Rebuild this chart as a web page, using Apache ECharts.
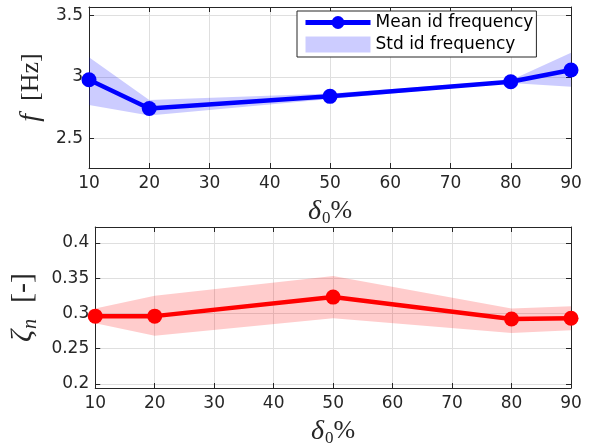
<!DOCTYPE html>
<html>
<head>
<meta charset="utf-8">
<script src="https://cdn.jsdelivr.net/npm/echarts@6/dist/echarts.min.js"></script>
<style>html,body{margin:0;padding:0;background:#fff}#c{width:592px;height:448px}</style>
</head>
<body>
<div id="c"></div>
<script>
// ---- data ----
const delta = [10, 20, 50, 80, 90];
const freqMean = [2.976, 2.742, 2.841, 2.960, 3.056];
const freqLo   = [2.770, 2.685, 2.820, 2.950, 2.920];
const freqHi   = [3.160, 2.812, 2.865, 2.972, 3.196];
const dampMean = [0.296, 0.296, 0.323, 0.292, 0.293];
const dampLo   = [0.286, 0.268, 0.293, 0.272, 0.276];
const dampHi   = [0.307, 0.325, 0.353, 0.307, 0.310];
const xTicks = [10, 20, 30, 40, 50, 60, 70, 80, 90];
const freqTicks = [2.5, 3, 3.5];
const dampTicks = [0.2, 0.25, 0.3, 0.35, 0.4];
const legendNames = ['Mean id frequency', 'Std id frequency'];

const axisCol = '#262626';
const gridCol = '#dfdfdf';
const tickFont = {fontFamily: 'DejaVu Sans', fontSize: 17, color: axisCol};

function band(xs, lo, hi, color) {
  return function (params, api) {
    if (params.dataIndex !== 0) return;
    const pts = [];
    for (let i = 0; i < xs.length; i++) pts.push(api.coord([xs[i], hi[i]]));
    for (let i = xs.length - 1; i >= 0; i--) pts.push(api.coord([xs[i], lo[i]]));
    return {type: 'polygon', shape: {points: pts}, style: {fill: color}};
  };
}

const serifRich = {
  it: {fontFamily: 'Liberation Serif', fontStyle: 'italic', fontSize: 28, color: axisCol},
  itL: {fontFamily: 'Liberation Serif', fontStyle: 'italic', fontSize: 30, color: axisCol},
  rm: {fontFamily: 'Liberation Serif', fontSize: 26, color: axisCol},
  rmL: {fontFamily: 'Liberation Serif', fontSize: 30, color: axisCol},
  sp: {fontFamily: 'Liberation Serif', fontSize: 25, width: 13, color: axisCol},
  spL: {fontFamily: 'Liberation Serif', fontSize: 25, width: 16, color: axisCol},
  sub: {fontFamily: 'Liberation Serif', fontSize: 17, padding: [14, 0, 0, 1], color: axisCol},
  subit: {fontFamily: 'Liberation Serif', fontStyle: 'italic', fontSize: 20, padding: [15, 0, 0, 1], color: axisCol}
};

function xAxisMain(gi) {
  return {
    type: 'value', gridIndex: gi, min: 10, max: 90, interval: 10,
    axisLine: {lineStyle: {color: axisCol, width: 1}},
    axisTick: {inside: true, length: 5, lineStyle: {color: axisCol}},
    axisLabel: Object.assign({margin: 7, customValues: xTicks}, tickFont),
    splitLine: {show: true, lineStyle: {color: gridCol, width: 1}},
    name: '{it|δ}{sub|0}{rm|%}', nameLocation: 'middle', nameGap: 28,
    nameTextStyle: {rich: serifRich}
  };
}
function xAxisTop(gi) {
  return {
    type: 'value', gridIndex: gi, position: 'top', min: 10, max: 90, interval: 10,
    axisLine: {lineStyle: {color: axisCol, width: 1}},
    axisTick: {inside: true, length: 5, lineStyle: {color: axisCol}},
    axisLabel: {show: false}, splitLine: {show: false}
  };
}
function yAxisMain(gi, min, max, ticks, fmt, name, gap) {
  return {
    type: 'value', gridIndex: gi, min: min, max: max,
    axisLine: {show: true, lineStyle: {color: axisCol, width: 1}},
    axisTick: {show: true, inside: true, length: 5, customValues: ticks, lineStyle: {color: axisCol}},
    axisLabel: Object.assign({margin: 6, customValues: ticks, formatter: fmt}, tickFont),
    splitLine: {show: true, lineStyle: {color: gridCol, width: 1}},
    name: name, nameLocation: 'middle', nameGap: gap, nameRotate: 90,
    nameTextStyle: {rich: serifRich}
  };
}
function yAxisRight(gi, min, max, ticks) {
  return {
    type: 'value', gridIndex: gi, position: 'right', min: min, max: max,
    axisLine: {show: true, lineStyle: {color: axisCol, width: 1}},
    axisTick: {show: true, inside: true, length: 5, customValues: ticks, lineStyle: {color: axisCol}},
    axisLabel: {show: false}, splitLine: {show: false}
  };
}

const option = {
  animation: false,
  backgroundColor: '#fff',
  grid: [
    {left: 89, right: 21, top: 7, height: 161},
    {left: 89, right: 21, top: 227, height: 163}
  ],
  xAxis: [xAxisMain(0), xAxisTop(0), xAxisMain(1), xAxisTop(1)],
  yAxis: [
    yAxisMain(0, 2.257, 3.569, freqTicks, v => String(v), '{it|f}{sp| }{rm|[Hz]}', 40),
    yAxisRight(0, 2.257, 3.569, freqTicks),
    yAxisMain(1, 0.194, 0.4225, dampTicks, v => String(v), '{itL|ζ}{subit|n}{spL| }{rmL|[-]}', 47),
    yAxisRight(1, 0.194, 0.4225, dampTicks)
  ],
  legend: {
    left: 297, top: 11, orient: 'vertical',
    data: [
      {name: legendNames[0], lineStyle: {width: 5}},
      {name: legendNames[1], icon: 'rect'}
    ],
    itemWidth: 65, itemHeight: 16, itemGap: 5,
    padding: [3, 3, 4, 6],
    borderColor: axisCol, borderWidth: 1, borderRadius: 0,
    backgroundColor: '#fff',
    textStyle: {fontFamily: 'DejaVu Sans', fontSize: 17, color: '#000'}
  },
  series: [
    {
      name: legendNames[1], type: 'custom', xAxisIndex: 0, yAxisIndex: 0,
      renderItem: band(delta, freqLo, freqHi, 'rgba(0,0,255,0.2)'),
      itemStyle: {color: 'rgba(0,0,255,0.2)'},
      data: delta.map((x, i) => [x, freqLo[i], freqHi[i]]),
      encode: {x: 0, y: [1, 2]}, silent: true
    },
    {
      name: legendNames[0], type: 'line', xAxisIndex: 0, yAxisIndex: 0,
      data: delta.map((x, i) => [x, freqMean[i]]),
      symbol: 'circle', symbolSize: 15,
      lineStyle: {color: '#0000ff', width: 4.5},
      itemStyle: {color: '#0000ff'}
    },
    {
      name: 'Std damping', type: 'custom', xAxisIndex: 2, yAxisIndex: 2,
      renderItem: band(delta, dampLo, dampHi, 'rgba(255,0,0,0.2)'),
      data: delta.map((x, i) => [x, dampLo[i], dampHi[i]]),
      encode: {x: 0, y: [1, 2]}, silent: true
    },
    {
      name: 'Mean damping', type: 'line', xAxisIndex: 2, yAxisIndex: 2,
      data: delta.map((x, i) => [x, dampMean[i]]),
      symbol: 'circle', symbolSize: 15,
      lineStyle: {color: '#ff0000', width: 4.5},
      itemStyle: {color: '#ff0000'}
    }
  ]
};
const chart = echarts.init(document.getElementById('c'), null, {renderer: 'canvas'});
chart.setOption(option);
</script>
</body>
</html>
